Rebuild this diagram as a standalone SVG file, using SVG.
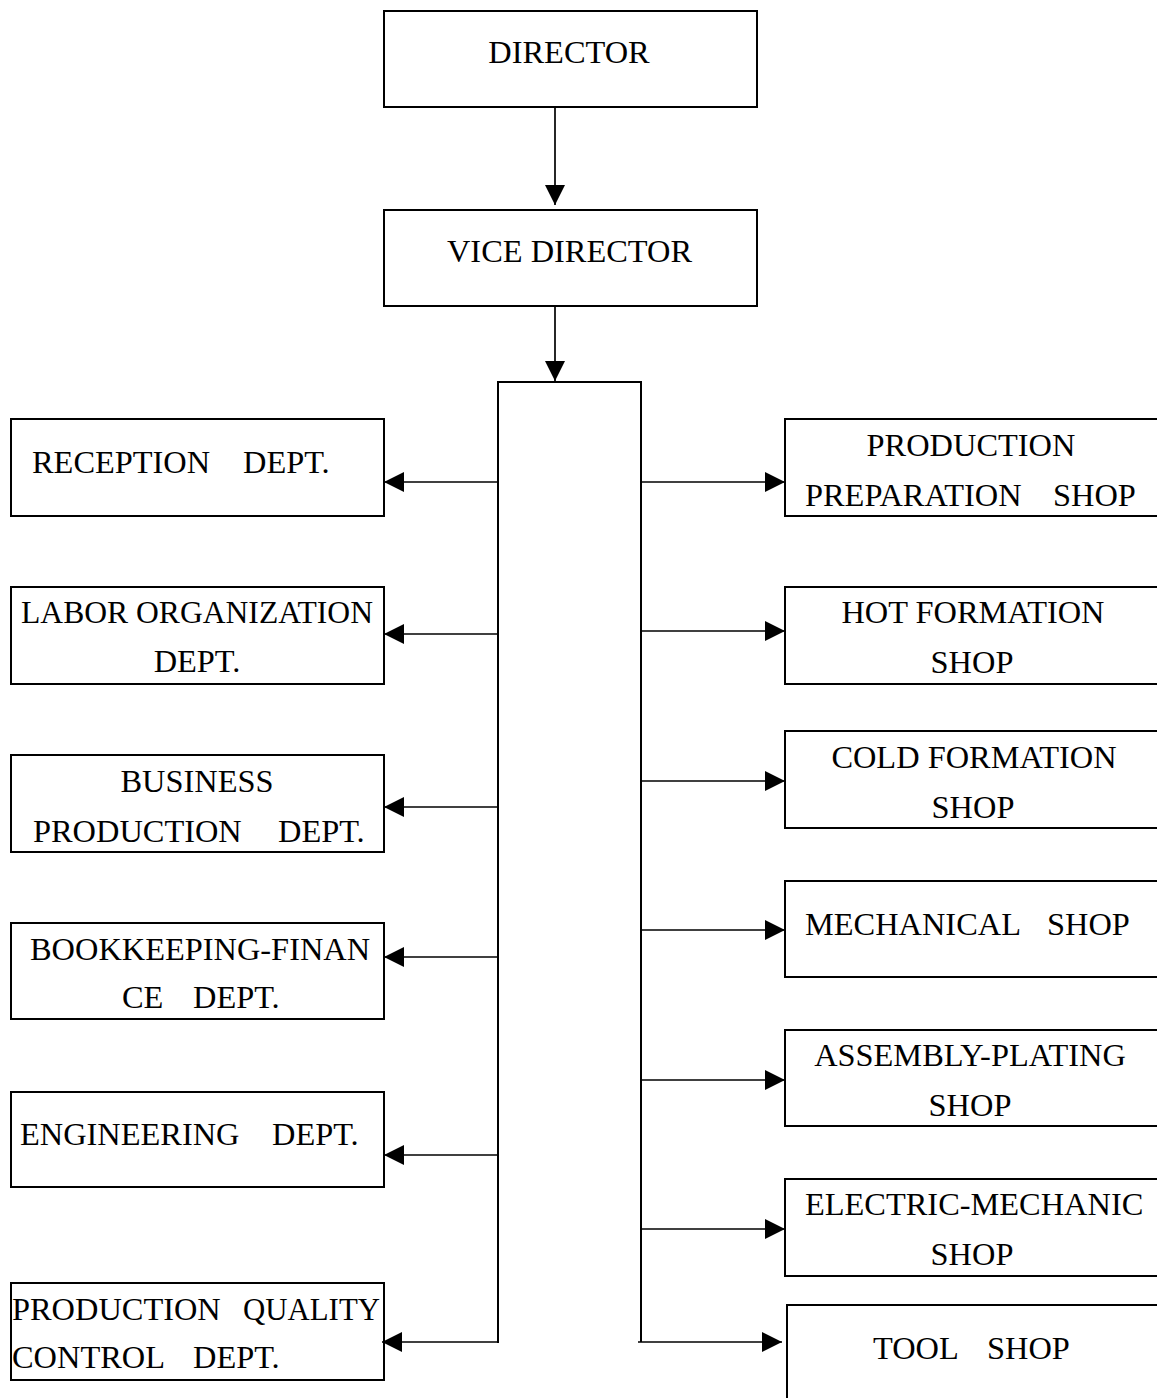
<svg xmlns="http://www.w3.org/2000/svg" width="1157" height="1398" viewBox="0 0 1157 1398">
<style>
  .box { fill: #ffffff; stroke: #000000; stroke-width: 2; }
  .ln { fill: none; stroke: #000000; stroke-width: 1.7; }
  text { font-family: "Liberation Serif", "Times New Roman", serif; font-size: 32.4px; fill: #000000; }
  .c { text-anchor: middle; }
</style>
<defs>
  <marker id="arr" viewBox="0 0 20 20" refX="20" refY="10" markerWidth="20" markerHeight="20" markerUnits="userSpaceOnUse" orient="auto">
    <path d="M0,0 L20,10 L0,20 Z" fill="#000000"/>
  </marker>
</defs>
<rect x="0" y="0" width="1157" height="1398" fill="#ffffff"/>

<g id="director">
  <rect class="box" x="384" y="11" width="373" height="96"/>
  <text class="c" x="569" y="63">DIRECTOR</text>
</g>
<g id="vice-director">
  <rect class="box" x="384" y="210" width="373" height="96"/>
  <text class="c" x="569.5" y="262">VICE DIRECTOR</text>
</g>
<g id="hub">
  <path class="ln" d="M498,1343 L498,382 L641,382 L641,1342" style="stroke-width:2"/>
</g>

<g id="reception">
  <rect class="box" x="11" y="419" width="373" height="97"/>
  <text y="473"><tspan x="32">RECEPTION</tspan><tspan x="243">DEPT.</tspan></text>
</g>
<g id="labor">
  <rect class="box" x="11" y="587" width="373" height="97"/>
  <text x="21" y="623" textLength="352" lengthAdjust="spacingAndGlyphs">LABOR ORGANIZATION</text>
  <text class="c" x="197" y="672">DEPT.</text>
</g>
<g id="business">
  <rect class="box" x="11" y="755" width="373" height="97"/>
  <text class="c" x="197" y="792">BUSINESS</text>
  <text y="842"><tspan x="33">PRODUCTION</tspan><tspan x="278">DEPT.</tspan></text>
</g>
<g id="bookkeeping">
  <rect class="box" x="11" y="923" width="373" height="96"/>
  <text x="30" y="960">BOOKKEEPING-FINAN</text>
  <text y="1008"><tspan x="122">CE</tspan><tspan x="193">DEPT.</tspan></text>
</g>
<g id="engineering">
  <rect class="box" x="11" y="1092" width="373" height="95"/>
  <text y="1145"><tspan x="20">ENGINEERING</tspan><tspan x="272">DEPT.</tspan></text>
</g>
<g id="quality">
  <rect class="box" x="11" y="1283" width="373" height="97"/>
  <text y="1320"><tspan x="12">PRODUCTION</tspan><tspan x="243" textLength="137" lengthAdjust="spacingAndGlyphs">QUALITY</tspan></text>
  <text y="1368"><tspan x="12">CONTROL</tspan><tspan x="193">DEPT.</tspan></text>
</g>

<g id="prep-shop">
  <rect class="box" x="785" y="419" width="374" height="97"/>
  <text class="c" x="971" y="456">PRODUCTION</text>
  <text y="506"><tspan x="805">PREPARATION</tspan><tspan x="1053">SHOP</tspan></text>
</g>
<g id="hot-shop">
  <rect class="box" x="785" y="587" width="374" height="97"/>
  <text class="c" x="973" y="623">HOT FORMATION</text>
  <text class="c" x="972" y="673">SHOP</text>
</g>
<g id="cold-shop">
  <rect class="box" x="785" y="731" width="374" height="97"/>
  <text class="c" x="974" y="768">COLD FORMATION</text>
  <text class="c" x="973" y="818">SHOP</text>
</g>
<g id="mech-shop">
  <rect class="box" x="785" y="881" width="374" height="96"/>
  <text y="935"><tspan x="805">MECHANICAL</tspan><tspan x="1047">SHOP</tspan></text>
</g>
<g id="assembly-shop">
  <rect class="box" x="785" y="1030" width="374" height="96"/>
  <text class="c" x="970" y="1066">ASSEMBLY-PLATING</text>
  <text class="c" x="970" y="1116">SHOP</text>
</g>
<g id="electric-shop">
  <rect class="box" x="785" y="1179" width="374" height="97"/>
  <text x="805" y="1215">ELECTRIC-MECHANIC</text>
  <text class="c" x="972" y="1265">SHOP</text>
</g>
<g id="tool-shop">
  <rect class="box" x="787" y="1305" width="374" height="100"/>
  <text y="1359"><tspan x="873">TOOL</tspan><tspan x="987">SHOP</tspan></text>
</g>

<g id="connectors">
  <line class="ln" x1="555" y1="107" x2="555" y2="205" marker-end="url(#arr)"/>
  <line class="ln" x1="555" y1="306" x2="555" y2="381" marker-end="url(#arr)"/>

  <line class="ln" x1="498" y1="482" x2="384" y2="482" marker-end="url(#arr)"/>
  <line class="ln" x1="498" y1="634" x2="384" y2="634" marker-end="url(#arr)"/>
  <line class="ln" x1="498" y1="807" x2="384" y2="807" marker-end="url(#arr)"/>
  <line class="ln" x1="498" y1="957" x2="384" y2="957" marker-end="url(#arr)"/>
  <line class="ln" x1="498" y1="1155" x2="384" y2="1155" marker-end="url(#arr)"/>
  <line class="ln" x1="497" y1="1342" x2="382" y2="1342" marker-end="url(#arr)"/>

  <line class="ln" x1="641" y1="482" x2="785" y2="482" marker-end="url(#arr)"/>
  <line class="ln" x1="641" y1="631" x2="785" y2="631" marker-end="url(#arr)"/>
  <line class="ln" x1="641" y1="781" x2="785" y2="781" marker-end="url(#arr)"/>
  <line class="ln" x1="641" y1="930" x2="785" y2="930" marker-end="url(#arr)"/>
  <line class="ln" x1="641" y1="1080" x2="785" y2="1080" marker-end="url(#arr)"/>
  <line class="ln" x1="641" y1="1229" x2="785" y2="1229" marker-end="url(#arr)"/>
  <line class="ln" x1="638" y1="1342" x2="782" y2="1342" marker-end="url(#arr)"/>
</g>
</svg>
